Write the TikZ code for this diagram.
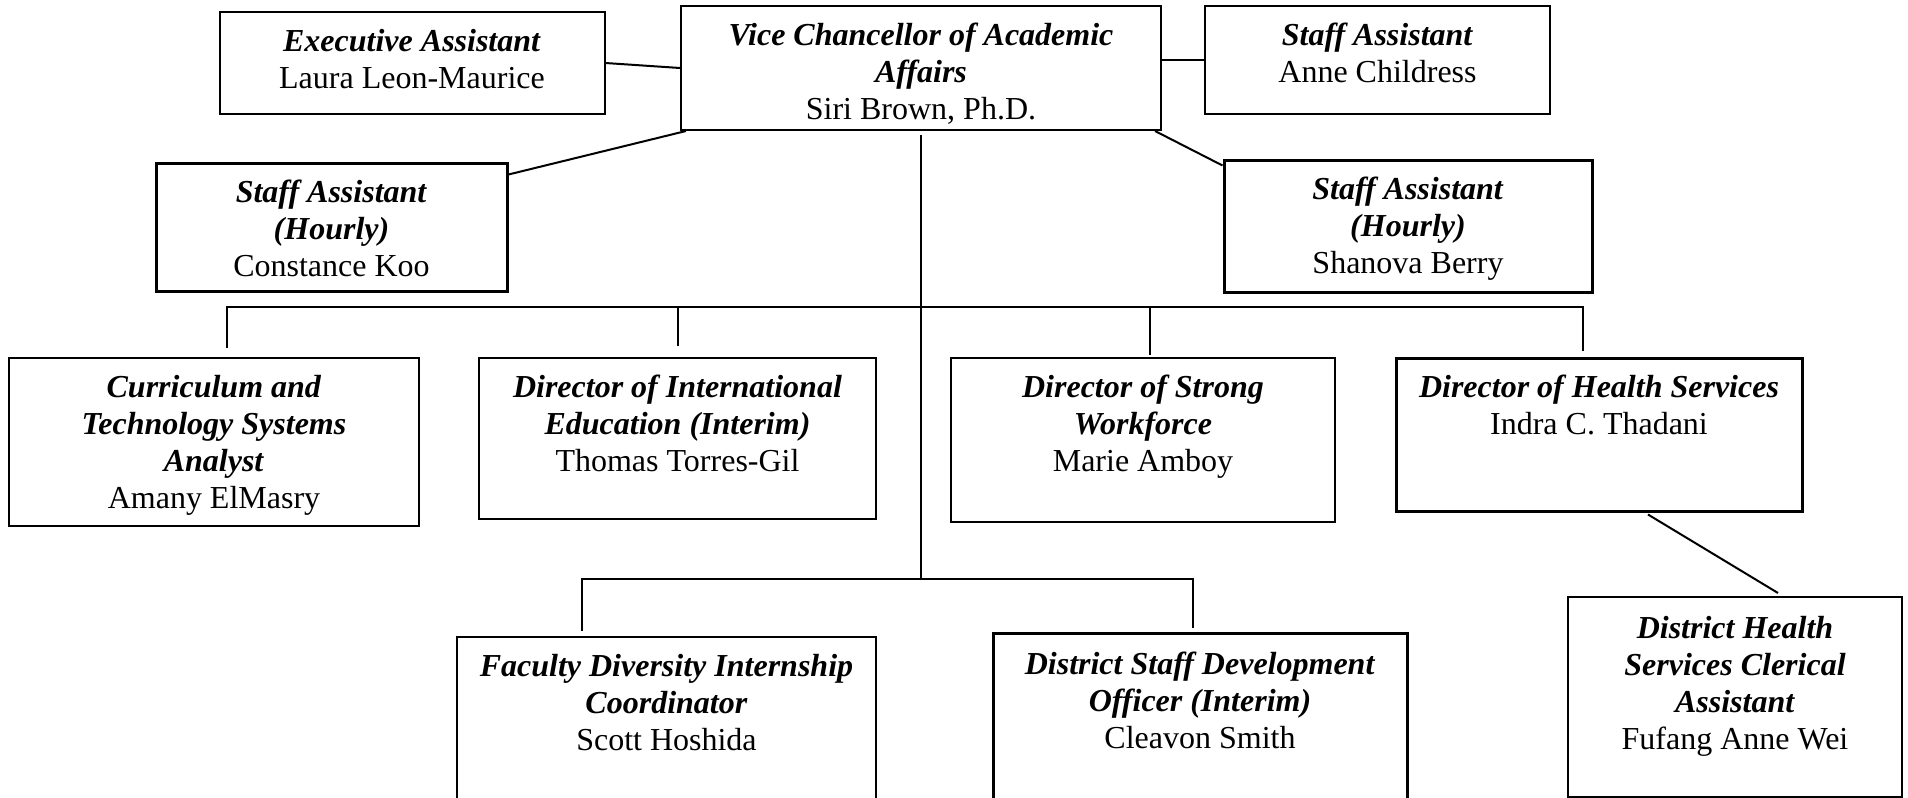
\documentclass[tikz,border=0pt]{standalone}
\usepackage{fontspec}
\setmainfont{Liberation Serif}
\usepackage{tikz}
\usetikzlibrary{positioning}

\newcommand{\jobtitle}[1]{\textbf{\textit{#1}}}
% box text: width, height, top pad, lines
\newcommand{\posttext}[4]{\parbox[c][#2][t]{#1}{\centering\vspace*{#3}\strut#4}}

\tikzset{
  post/.style={draw, inner sep=0pt, line width=1pt},
  heavypost/.style={post, line width=1.5pt},
  link/.style={line width=1pt},
}

\begin{document}
\begin{tikzpicture}[x=0.5pt,y=-0.5pt,font=\fontsize{16pt}{18.5pt}\selectfont]
\clip (0,0) rectangle (1908,798);
%% top row
\node (exec) at (412,63) [post] {\posttext{192.5pt}{51pt}{6.6pt}{\jobtitle{Executive Assistant}\\ Laura Leon-Maurice}};
  \node (vc) at (921,68) [post] {\posttext{240pt}{62pt}{6.6pt}{\jobtitle{Vice Chancellor of Academic}\\ \jobtitle{Affairs}\\ Siri Brown, Ph.D.}};
  \node (anne) at (1377.5,60) [post] {\posttext{172.5pt}{54pt}{6.6pt}{\jobtitle{Staff Assistant}\\ Anne Childress}};
  \node (constance) at (331.5,227) [heavypost] {\posttext{175.5pt}{64pt}{6.6pt}{\jobtitle{Staff Assistant}\\ \jobtitle{(Hourly)}\\ Constance Koo}};
  \node (shanova) at (1408,226) [heavypost] {\posttext{184pt}{66pt}{7pt}{\jobtitle{Staff Assistant}\\ \jobtitle{(Hourly)}\\ Shanova Berry}};
%% directors
  \node (curric) at (214,442) [post] {\posttext{205pt}{84pt}{6.6pt}{\jobtitle{Curriculum and}\\ \jobtitle{Technology Systems}\\ \jobtitle{Analyst}\\ Amany ElMasry}};
  \node (intl) at (677.5,438.5) [post] {\posttext{198.5pt}{80.5pt}{6.6pt}{\jobtitle{Director of International}\\ \jobtitle{Education (Interim)}\\ Thomas Torres-Gil}};
  \node (strong) at (1143,440) [post] {\posttext{192pt}{82pt}{6.6pt}{\jobtitle{Director of Strong}\\ \jobtitle{Workforce}\\ Marie Amboy}};
  \node (health) at (1599,434.5) [heavypost] {\posttext{203pt}{76.5pt}{6.6pt}{\jobtitle{Director of Health Services}\\ Indra C. Thadani}};
%% bottom row
  \node (faculty) at (666.5,723.5) [post] {\posttext{209.5pt}{86.5pt}{7pt}{\jobtitle{Faculty Diversity Internship}\\ \jobtitle{Coordinator}\\ Scott Hoshida}};
  \node (devofficer) at (1200,721.5) [heavypost] {\posttext{207pt}{88.5pt}{8pt}{\jobtitle{District Staff Development}\\ \jobtitle{Officer (Interim)}\\ Cleavon Smith}};
  \node (clerical) at (1735,697) [post] {\posttext{167pt}{100pt}{7.7pt}{\jobtitle{District Health}\\ \jobtitle{Services Clerical}\\ \jobtitle{Assistant}\\ Fufang Anne Wei}};
%% lines
  \coordinate (topbus) at (921,307);
  \coordinate (lowbus) at (921,579);
  \draw [link] (exec.east) -- (vc.west);
  \draw [link] (anne.west) -- (anne.west -| vc.east);
  \draw [link] ([yshift=-6.5pt]constance.north east) -- ([xshift=3pt]vc.south west);
  \draw [link] ([xshift=-3.5pt]vc.south east) -- ([yshift=-3.5pt]shanova.north west);
  \draw [link] ([yshift=-2pt]vc.south) -- (lowbus);
  \draw [link] ([xshift=6.5pt,yshift=4.5pt]curric.north) |- (topbus);
  \draw [link] ([yshift=5.5pt]intl.north) |- (topbus);
  \draw [link] ([xshift=3.5pt,yshift=1pt]strong.north) |- (topbus);
  \draw [link] ([xshift=-8pt,yshift=3pt]health.north) |- (topbus);
  \draw [link] ([xshift=-42.25pt,yshift=2.5pt]faculty.north) |- (lowbus);
  \draw [link] ([xshift=-3.5pt,yshift=2pt]devofficer.north) |- (lowbus);
  \draw [link] ([xshift=24.5pt,yshift=-1pt]health.south) -- ([xshift=21.5pt,yshift=1.5pt]clerical.north);
%
\end{tikzpicture}
\end{document}
